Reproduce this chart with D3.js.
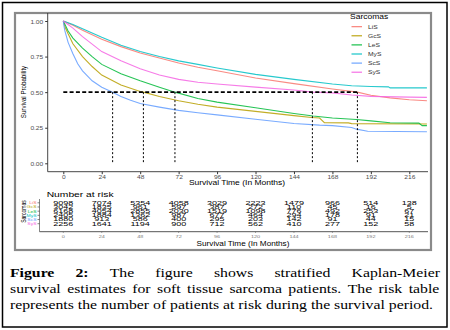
<!DOCTYPE html>
<html>
<head>
<meta charset="utf-8">
<script src="https://cdn.jsdelivr.net/npm/d3@7"></script>
<style>
    body { margin: 0; background: #fff; }
    svg { display: block; font-family: "Liberation Sans", Arial, sans-serif; }
    .caption text { font-family: "Liberation Serif", "Times New Roman", serif; fill: #000; }
</style>
</head>
<body>
<svg id="chart" width="450" height="330"></svg>
<script>
// strata, in legend order
const groups = ["LiS", "GcS", "LeS", "MyS", "ScS", "SyS"]
const colors = ["#F8766D", "#B79F00", "#00BA38", "#00BFC4", "#619CFF", "#F564E3"]

// [months, survival probability]
const survLiS = [[0, 1], [6, 0.97], [12, 0.935], [24, 0.872], [36, 0.82], [48, 0.775], [60, 0.74], [72, 0.705], [84, 0.675], [96, 0.65], [120, 0.6], [144, 0.56], [168, 0.522], [183.6, 0.5], [192, 0.478], [204, 0.46], [216, 0.447], [227, 0.44]]
const survGcS = [[0, 1], [1, 0.96], [3, 0.91], [6, 0.84], [12, 0.75], [18, 0.68], [24, 0.62], [36, 0.55], [48, 0.505], [50, 0.5], [60, 0.47], [72, 0.44], [84, 0.415], [96, 0.395], [120, 0.365], [144, 0.335], [155, 0.322], [160, 0.318], [163, 0.285], [178, 0.284], [180, 0.279], [227, 0.276]]
const survLeS = [[0, 1], [3, 0.93], [6, 0.88], [12, 0.81], [18, 0.75], [24, 0.695], [36, 0.63], [48, 0.58], [60, 0.535], [69.7, 0.5], [84, 0.455], [96, 0.43], [120, 0.39], [144, 0.35], [156, 0.332], [168, 0.318], [183, 0.308], [192, 0.298], [204, 0.285], [222, 0.282], [224, 0.265], [227, 0.265]]
const survMyS = [[0, 1], [6, 0.975], [12, 0.945], [24, 0.885], [36, 0.83], [48, 0.785], [60, 0.75], [72, 0.72], [84, 0.695], [96, 0.67], [120, 0.625], [144, 0.59], [168, 0.557], [180, 0.545], [192, 0.54], [203, 0.537], [204, 0.53], [227, 0.53]]
const survScS = [[0, 1], [0.5, 0.96], [1, 0.93], [3, 0.85], [6, 0.77], [9, 0.7], [12, 0.65], [18, 0.58], [24, 0.535], [30.8, 0.5], [36, 0.47], [42, 0.443], [48, 0.42], [60, 0.395], [72, 0.372], [84, 0.355], [96, 0.34], [120, 0.31], [144, 0.28], [160, 0.268], [168, 0.265], [180, 0.252], [183, 0.24], [190, 0.225], [227, 0.222]]
const survSyS = [[0, 1], [6, 0.95], [12, 0.89], [24, 0.785], [36, 0.72], [48, 0.665], [60, 0.62], [72, 0.59], [84, 0.57], [96, 0.557], [120, 0.535], [144, 0.515], [155.5, 0.5], [168, 0.495], [180, 0.48], [192, 0.47], [216, 0.465], [227, 0.463]]

// median survival (months), null when not reached
const medians = [183.6, 50, 69.7, null, 30.8, 155.5]

const yTicks = [0, 0.25, 0.5, 0.75, 1]
const riskTimes = [0, 24, 48, 72, 96, 120, 144, 168, 192, 216]
const riskLiS = [9098, 7074, 5354, 4058, 3029, 2223, 1479, 966, 514, 138]
const riskGcS = [3042, 1835, 961, 597, 387, 272, 110, 45, 16, 5]
const riskLeS = [6168, 4054, 2855, 2030, 1519, 1098, 776, 492, 253, 67]
const riskMyS = [2405, 1884, 1362, 987, 677, 464, 294, 178, 91, 21]
const riskScS = [1880, 913, 586, 400, 295, 203, 142, 91, 44, 15]
const riskSyS = [2256, 1641, 1194, 900, 712, 562, 410, 277, 152, 58]

const captionLine1 = ["Figure", "2:", "The", "figure", "shows", "stratified", "Kaplan-Meier"]
const captionLine2 = ["survival", "estimates", "for", "soft", "tissue", "sarcoma", "patients.", "The", "risk", "table"]
const captionLine3 = "represents the number of patients at risk during the survival period."

const curves = [survLiS, survGcS, survLeS, survMyS, survScS, survSyS]
const risks = [riskLiS, riskGcS, riskLeS, riskMyS, riskScS, riskSyS]

// the picture is squeezed vertically, so text is too
const squash = 0.78

const svg = d3.select("#chart")
const x = d3.scaleLinear().domain([0, 216]).range([63.3, 409.3])
const y = d3.scaleLinear().domain([0, 1]).range([163.3, 21])
const color = d3.scaleOrdinal().domain(groups).range(colors)

const plotLeft = 47.7
const plotRight = 428
const plotTop = 13
const plotBottom = 171.7

const addText = (g, str, px, py, size, anchor = "start", k = squash) =>
    g.append("text")
        .attr("transform", `translate(${px},${py}) scale(1,${k})`)
        .attr("text-anchor", anchor)
        .attr("font-size", size)
        .text(str)

// outer box and grey figure frame
svg.append("rect").attr("x", 2.5).attr("y", 2.5).attr("width", 444.5).attr("height", 324.5)
    .attr("fill", "none").attr("stroke", "#000").attr("stroke-width", 1.5)
svg.append("rect").attr("x", 15).attr("y", 13).attr("width", 416).attr("height", 237)
    .attr("fill", "none").attr("stroke", "#8a8a8a").attr("stroke-width", 2.2)

// ---- survival curves ----
const line = d3.line().x(d => x(d[0])).y(d => y(d[1]))
svg.append("g")
    .selectAll("path")
    .data(curves)
    .join("path")
    .attr("d", line)
    .attr("fill", "none")
    .attr("stroke", (d, i) => colors[i])
    .attr("stroke-opacity", 0.85)
    .attr("stroke-width", 1.1)

// median guides
const maxMedian = d3.max(medians)
svg.append("line")
    .attr("x1", x(0)).attr("x2", x(maxMedian))
    .attr("y1", y(0.5)).attr("y2", y(0.5))
    .attr("stroke", "#000").attr("stroke-width", 1.8).attr("stroke-dasharray", "4,2.3")
svg.append("g")
    .selectAll("line")
    .data(medians.filter(m => m !== null))
    .join("line")
    .attr("x1", d => x(d)).attr("x2", d => x(d))
    .attr("y1", y(0.5)).attr("y2", y(0))
    .attr("stroke", "#000").attr("stroke-width", 1).attr("stroke-dasharray", "2,2")

// axes
svg.append("line").attr("x1", plotLeft).attr("x2", plotLeft).attr("y1", plotTop).attr("y2", plotBottom)
    .attr("stroke", "#333").attr("stroke-width", 0.9)
svg.append("line").attr("x1", plotLeft).attr("x2", plotRight).attr("y1", plotBottom).attr("y2", plotBottom)
    .attr("stroke", "#333").attr("stroke-width", 0.9)

const xAxis = svg.append("g")
    .attr("transform", `translate(0,${plotBottom})`)
    .call(d3.axisBottom(x).tickValues(riskTimes).tickSize(2.5))
xAxis.select(".domain").remove()
xAxis.selectAll("line").attr("stroke", "#333")
xAxis.selectAll("text")
    .attr("y", null).attr("dy", null)
    .attr("transform", `translate(0,7.2) scale(1,${squash})`)
    .attr("font-size", 6.6).attr("fill", "#4d4d4d")

const yAxis = svg.append("g")
    .attr("transform", `translate(${plotLeft},0)`)
    .call(d3.axisLeft(y).tickValues(yTicks).tickFormat(d3.format(".2f")).tickSize(2.5))
yAxis.select(".domain").remove()
yAxis.selectAll("line").attr("stroke", "#333")
yAxis.selectAll("text")
    .attr("x", null).attr("dy", null)
    .attr("transform", `translate(-4.5,2) scale(1,${squash})`)
    .attr("font-size", 6.6).attr("fill", "#4d4d4d")

addText(svg, "Survival Time (In Months)", 237, 185, 8.5, "middle")
svg.append("text")
    .attr("transform", `translate(26,92) rotate(-90) scale(${squash},1)`)
    .attr("text-anchor", "middle")
    .attr("font-size", 7.9)
    .text("Survival Probability")

// legend
const legend = svg.append("g")
addText(legend, "Sarcomas", 350, 19, 8.5)
groups.forEach((gName, i) => {
    const ly = 26.7 + i * 9.1
    legend.append("line").attr("x1", 351.5).attr("x2", 362).attr("y1", ly).attr("y2", ly)
        .attr("stroke", color(gName)).attr("stroke-width", 1.1)
    addText(legend, gName, 368, ly + 2, 6.7).attr("fill", "#333")
})

// ---- risk table ----
const risk = svg.append("g")
addText(risk, "Number at risk", 46.7, 196.5, 10.3)

const rowY = i => 202.8 + i * 4.18
risks.forEach((row, i) => {
    row.forEach((n, j) => {
        addText(risk, n, x(riskTimes[j]), rowY(i) + 1.9, 9, "middle", 0.6)
    })
    addText(risk, groups[i], 36.5, rowY(i) + 1.4, 5, "end", 0.75).attr("fill", colors[i])
    risk.append("line").attr("x1", 37.5).attr("x2", 39.5).attr("y1", rowY(i)).attr("y2", rowY(i))
        .attr("stroke", "#333").attr("stroke-width", 0.6)
})
risk.append("line").attr("x1", 39.5).attr("x2", 39.5).attr("y1", 199).attr("y2", 231.7)
    .attr("stroke", "#333").attr("stroke-width", 0.6)
risk.append("line").attr("x1", 39.5).attr("x2", plotRight).attr("y1", 231.7).attr("y2", 231.7)
    .attr("stroke", "#555").attr("stroke-width", 1)
riskTimes.forEach(t => {
    risk.append("line").attr("x1", x(t)).attr("x2", x(t)).attr("y1", 231.7).attr("y2", 233)
        .attr("stroke", "#555").attr("stroke-width", 0.5)
    addText(risk, t, x(t), 238.3, 5.5, "middle").attr("fill", "#777")
})
svg.append("text")
    .attr("transform", `translate(26,211.5) rotate(-90) scale(0.8,1)`)
    .attr("text-anchor", "middle")
    .attr("font-size", 6.3)
    .text("Sarcomas")
addText(risk, "Survival Time (In Months)", 243, 246, 8.2, "middle")

// ---- caption, justified by hand ----
const caption = svg.append("g").attr("class", "caption")

// size the serif font so the last (unjustified) line is as wide as in the figure
const last = caption.append("text")
    .attr("transform", "translate(10,308.8) scale(1,0.78)")
    .attr("font-size", 15.6)
    .text(captionLine3)
const capSize = 15.6 * 423 / last.node().getComputedTextLength()
last.attr("font-size", capSize)

const justify = (words, py, left, right, boldCount) => {
    const nodes = words.map((w, i) => caption.append("text")
        .attr("font-size", capSize)
        .attr("font-weight", i < boldCount ? "bold" : null)
        .text(w))
    const widths = nodes.map(n => n.node().getComputedTextLength())
    const gap = (right - left - d3.sum(widths)) / (words.length - 1)
    let cx = left
    nodes.forEach((n, i) => {
        n.attr("transform", `translate(${cx},${py}) scale(1,0.78)`)
        cx += widths[i] + gap
    })
}
justify(captionLine1, 277, 10, 440, 2)
justify(captionLine2, 293.3, 10, 439.3, 0)
</script>
</body>
</html>
